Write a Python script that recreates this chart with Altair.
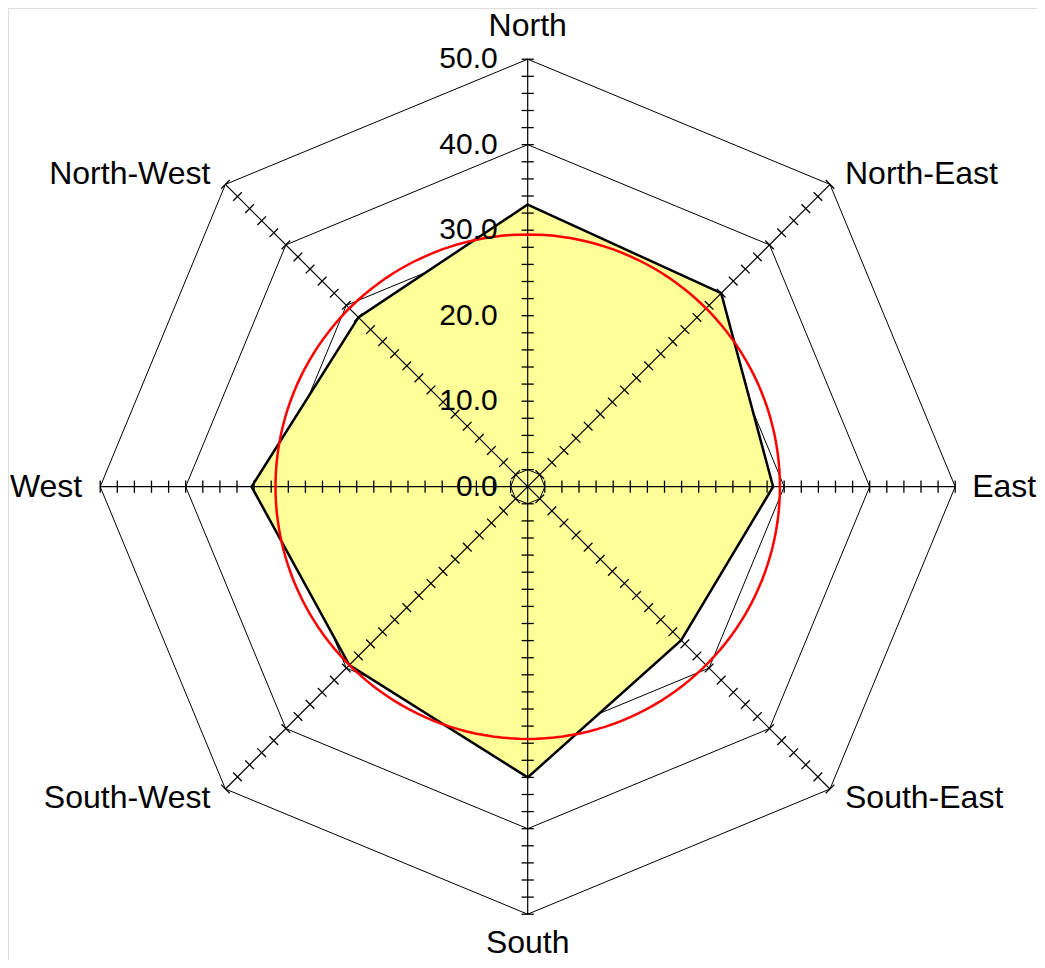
import math
import altair as alt
import pandas as pd

# ---- data ----
directions = ["North", "North-East", "East", "South-East",
              "South", "South-West", "West", "North-West"]
values = [33.0, 32.0, 28.7, 25.4, 34.0, 29.5, 32.3, 28.0]
circle_value = 29.5
grid_rings = [10, 20, 30, 40, 50]
inner_ring = [2]
tick_values = list(range(2, 52, 2))
axis_labels = [0, 10, 20, 30, 40, 50]
max_value = 50

# ---- geometry helpers (layout) ----
PX = 8.55                      # pixels per data unit
W, H = 1029, 952
CX, CY = 527.7 - 8, 486.7 - 8  # centre inside the view
xdom = [-CX / PX, (W - CX) / PX]
ydom = [-(H - CY) / PX, CY / PX]
angles = [i * 45 for i in range(len(directions))]


def pos(r, ang):
    a = math.radians(ang)
    return r * math.sin(a), r * math.cos(a)


xs = alt.Scale(domain=xdom, nice=False, zero=False)
ys = alt.Scale(domain=ydom, nice=False, zero=False)


def X(f="x"):
    return alt.X(f"{f}:Q", scale=xs, axis=None)


def Y(f="y"):
    return alt.Y(f"{f}:Q", scale=ys, axis=None)


# polygon of the series
poly = pd.DataFrame([
    {"order": i, "dir": d, "v": v, "x": pos(v, a)[0], "y": pos(v, a)[1]}
    for i, (d, v, a) in enumerate(zip(directions, values, angles))
])


# grid rings
def ring_df(rings):
    rows = []
    for r in rings:
        for i, a in enumerate(angles):
            x, y = pos(r, a)
            rows.append({"ring": r, "order": i, "x": x, "y": y})
    return pd.DataFrame(rows)


rings = ring_df(grid_rings)
inner = ring_df(inner_ring)

# spokes
spokes = pd.DataFrame([
    {"dir": d, "x": 0.0, "y": 0.0, "x2": pos(max_value, a)[0], "y2": pos(max_value, a)[1]}
    for d, a in zip(directions, angles)
])

# tick marks on the spokes
ticks = pd.DataFrame([
    {"ang": a, "x": pos(t, a)[0], "y": pos(t, a)[1]}
    for a in angles for t in tick_values
])

# red circle
circle = pd.DataFrame([
    {"order": k, "x": pos(circle_value, k)[0], "y": pos(circle_value, k)[1]}
    for k in range(0, 360, 2)
])

# value labels on the North spoke
vlabels = pd.DataFrame([
    {"x": 0.0, "y": float(v), "text": f"{v:.1f}"} for v in axis_labels
])

FONT = "Liberation Sans"

ring_layer = alt.Chart(rings).mark_line(
    interpolate="linear-closed", color="black", strokeWidth=1
).encode(x=X(), y=Y(), detail="ring:N", order="order:Q")

area_layer = alt.Chart(poly).mark_line(
    interpolate="linear-closed", fill="#FFFF99", stroke="black", strokeWidth=2.5
).encode(x=X(), y=Y(), order="order:Q")

spoke_layer = alt.Chart(spokes).mark_rule(color="black", strokeWidth=1.2).encode(
    x=X(), y=Y(), x2="x2:Q", y2="y2:Q"
)

tick_layer = alt.Chart(ticks).mark_point(
    shape="M-1,0L1,0", size=150, filled=False, stroke="black", strokeWidth=1.3, opacity=1
).encode(x=X(), y=Y(), angle=alt.Angle("ang:Q", scale=None))

inner_layer = alt.Chart(inner).mark_line(
    interpolate="linear-closed", color="black", strokeWidth=1
).encode(x=X(), y=Y(), detail="ring:N", order="order:Q")

circle_layer = alt.Chart(circle).mark_line(
    interpolate="linear-closed", color="#FF0000", strokeWidth=2.5
).encode(x=X(), y=Y(), order="order:Q")

vlabel_layer = alt.Chart(vlabels).mark_text(
    align="right", baseline="middle", dx=-30, font=FONT, fontSize=30, color="black"
).encode(x=X(), y=Y(), text="text:N")

# direction labels
dir_df = pd.DataFrame([
    {"dir": d, "x": pos(max_value, a)[0], "y": pos(max_value, a)[1]}
    for d, a in zip(directions, angles)
])
label_style = {
    "North": dict(align="center", dx=0, dy=-33),
    "North-East": dict(align="left", dx=15, dy=-10),
    "East": dict(align="left", dx=17, dy=0),
    "South-East": dict(align="left", dx=15, dy=9),
    "South": dict(align="center", dx=0, dy=29),
    "South-West": dict(align="right", dx=-15, dy=9),
    "West": dict(align="right", dx=-18, dy=0),
    "North-West": dict(align="right", dx=-15, dy=-10),
}
dir_layers = [
    alt.Chart(dir_df).transform_filter(alt.datum.dir == d).mark_text(
        baseline="middle", font=FONT, fontSize=32, color="black", **label_style[d]
    ).encode(x=X(), y=Y(), text="dir:N")
    for d in directions
]

chart = alt.layer(
    ring_layer, area_layer, spoke_layer, tick_layer, inner_layer,
    circle_layer, vlabel_layer, *dir_layers
).properties(
    width=W, height=H, padding=0,
    autosize=alt.AutoSizeParams(type="none")
).configure_view(strokeWidth=0).configure(background="white")

chart.save("out.html", embed_options={"renderer": "svg", "actions": False})
